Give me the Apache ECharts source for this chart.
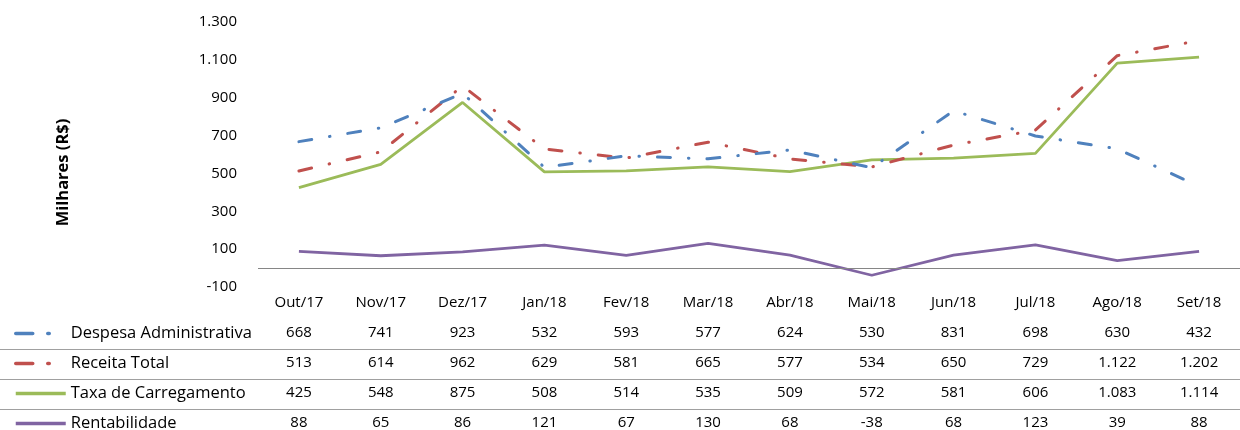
<!DOCTYPE html>
<html>
<head>
<meta charset="utf-8">
<script src="https://cdn.jsdelivr.net/npm/echarts@6/dist/echarts.min.js"></script>
<style>html,body{margin:0;padding:0;background:#fff}#c{width:1240px;height:430px}</style>
</head>
<body>
<div id="c"></div>
<script>
var categories = ['Out/17','Nov/17','Dez/17','Jan/18','Fev/18','Mar/18','Abr/18','Mai/18','Jun/18','Jul/18','Ago/18','Set/18'];
var seriesNames = ['Despesa Administrativa','Receita Total','Taxa de Carregamento','Rentabilidade'];
var despesa = [668,741,923,532,593,577,624,530,831,698,630,432];
var receita = [513,614,962,629,581,665,577,534,650,729,1122,1202];
var taxa = [425,548,875,508,514,535,509,572,581,606,1083,1114];
var rentab = [88,65,86,121,67,130,68,-38,68,123,39,88];

var seriesData = [despesa, receita, taxa, rentab];
var colors = ['#4F81BD','#C0504D','#9BBB59','#8064A2'];
var FONT = 'Open Sans';

function fmt(v){
  var s = String(Math.abs(v)).replace(/\B(?=(\d{3})+(?!\d))/g, '.');
  return (v < 0 ? '-' : '') + s;
}

var gridBottomY = 288;
var rowCenters = [332, 362, 392, 422];

var xAxes = [{
  type: 'category',
  data: categories,
  boundaryGap: true,
  axisLine: {show: false, onZero: false},
  axisTick: {show: false},
  axisLabel: {margin: 8, fontFamily: FONT, fontSize: 15, color: '#000'}
}];
seriesData.forEach(function(arr, i){
  xAxes.push({
    type: 'category',
    data: arr.map(fmt),
    position: 'bottom',
    offset: rowCenters[i] - gridBottomY - 6,
    axisLine: {show: false, onZero: false},
    axisTick: {show: false},
    axisLabel: {margin: 0, fontFamily: FONT, fontSize: 15, color: '#000'}
  });
});

var dashDot = [13, 18, 0.5, 18];

var series = seriesData.map(function(arr, i){
  var dashed = i < 2;
  var s = {
    name: seriesNames[i],
    type: 'line',
    data: arr,
    xAxisIndex: 0,
    symbol: 'none',
    showSymbol: false,
    color: colors[i],
    lineStyle: {
      color: colors[i],
      width: dashed ? 3 : 2.8,
      type: dashed ? dashDot : 'solid',
      cap: dashed ? 'round' : 'butt'
    },
    z: 4 - i,
    animation: false
  };
  if (i === 3) {
    s.markLine = {
      silent: true,
      symbol: 'none',
      label: {show: false},
      lineStyle: {color: '#868686', width: 1, type: 'solid'},
      data: [{yAxis: 0}],
      animation: false
    };
  }
  return s;
});

var legends = seriesNames.map(function(n, i){
  return {
    orient: 'vertical',
    left: 14,
    top: rowCenters[i] - 7,
    padding: 0,
    itemWidth: 50,
    itemHeight: 14,
    itemGap: 0,
    textStyle: {fontFamily: FONT, fontSize: 16.5, color: '#000'},
    data: [{
      name: n,
      itemStyle: {opacity: 0},
      lineStyle: i < 2 ? {type: [17, 15, 1.5, 30], width: 3.5, cap: 'round', color: colors[i]} : {width: 3.5, color: colors[i]}
    }]
  };
});

var graphics = [349.5, 379.5, 409.5].map(function(y){
  return {type: 'line', shape: {x1: 0, y1: y, x2: 1240, y2: y}, style: {stroke: '#A0A0A0', lineWidth: 1}, silent: true};
});

var chart = echarts.init(document.getElementById('c'), null, {renderer: 'canvas'});
chart.setOption({
  animation: false,
  backgroundColor: '#fff',
  grid: {left: 258, top: 22, width: 990, height: 266, containLabel: false},
  legend: legends,
  xAxis: xAxes,
  yAxis: {
    type: 'value',
    min: -100,
    max: 1300,
    interval: 200,
    name: 'Milhares (R$)',
    nameLocation: 'middle',
    nameGap: 186,
    nameTextStyle: {fontFamily: FONT, fontSize: 16.5, fontWeight: 'bold', color: '#000', padding: [0, 36, 0, 0]},
    axisLine: {show: false},
    axisTick: {show: false},
    splitLine: {show: false},
    axisLabel: {margin: 21, fontFamily: FONT, fontSize: 15, color: '#000', formatter: function(v){ return fmt(v); }}
  },
  series: series,
  graphic: graphics
});
</script>
</body>
</html>
